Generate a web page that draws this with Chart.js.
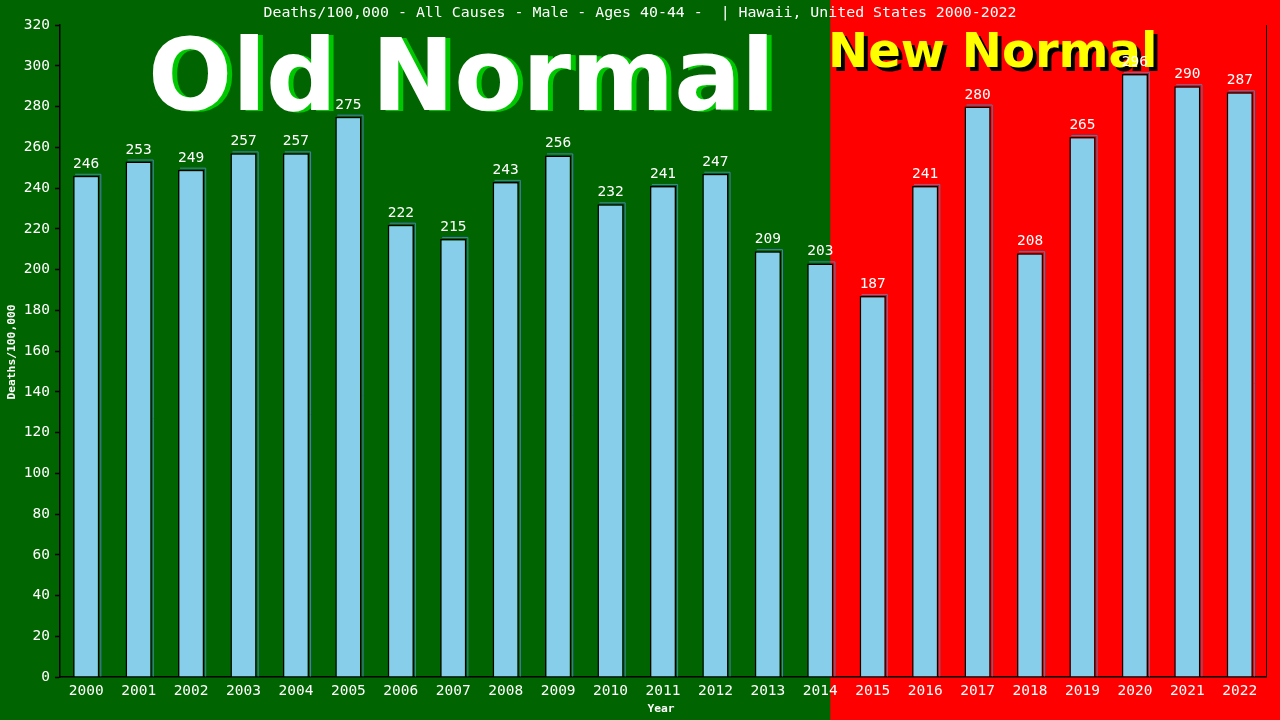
<!DOCTYPE html>
<html><head><meta charset="utf-8">
<script src="https://cdn.jsdelivr.net/npm/chart.js@4"></script>
<style>html,body{margin:0;padding:0;background:#006400;}#wrap{width:1280px;height:720px;}</style>
</head><body><div id="wrap"><canvas id="c" width="1280" height="720"></canvas></div>
<script>
const years = ["2000","2001","2002","2003","2004","2005","2006","2007","2008","2009","2010","2011","2012","2013","2014","2015","2016","2017","2018","2019","2020","2021","2022"];
const deaths = [246,253,249,257,257,275,222,215,243,256,232,241,247,209,203,187,241,280,208,265,296,290,287];
const chartTitle = "Deaths/100,000 - All Causes - Male - Ages 40-44 -  | Hawaii, United States 2000-2022";
const yTitle = "Deaths/100,000";
const xTitle = "Year";
const lastOldIndex = 14;

const MONO = '"DejaVu Sans Mono", "Liberation Mono", monospace';
const BIG = '"DejaVu Sans", "Noto Sans", sans-serif';

const bgPlugin = {
  id: 'bg',
  beforeDraw(chart) {
    const ctx = chart.ctx, xs = chart.scales.x;
    const split = xs.getPixelForValue(lastOldIndex) + 10;
    ctx.save();
    ctx.fillStyle = '#006400';
    ctx.fillRect(0, 0, chart.width, chart.height);
    ctx.fillStyle = '#ff0000';
    ctx.fillRect(split, 0, chart.width - split, chart.height);
    ctx.textBaseline = 'alphabetic';
    ctx.textAlign = 'left';
    ctx.font = 'bold 99px ' + BIG;
    ctx.fillStyle = '#00c800';
    ctx.fillText('Old Normal', 153, 111);
    ctx.fillStyle = '#ffffff';
    ctx.fillText('Old Normal', 148, 110);
    ctx.font = 'bold 48px ' + BIG;
    ctx.fillStyle = '#000000';
    ctx.fillText('New Normal', 832, 71);
    ctx.fillStyle = '#ffff00';
    ctx.fillText('New Normal', 828, 67);
    ctx.restore();
  },
  beforeDatasetsDraw(chart) {
    const ctx = chart.ctx;
    const meta = chart.getDatasetMeta(0);
    ctx.save();
    ctx.strokeStyle = '#4682b4';
    ctx.lineWidth = 1;
    meta.data.forEach((el) => {
      const w = el.width, l = el.x - w / 2;
      ctx.beginPath();
      ctx.moveTo(l + 2, el.y - 1.5);
      ctx.lineTo(l + w + 1.5, el.y - 1.5);
      ctx.lineTo(l + w + 1.5, el.base);
      ctx.stroke();
    });
    ctx.restore();
  },
  afterDraw(chart) {
    const ctx = chart.ctx, a = chart.chartArea;
    ctx.save();
    ctx.strokeStyle = '#000';
    ctx.lineWidth = 1;
    ctx.beginPath();
    ctx.moveTo(a.right + 0.5, a.top);
    ctx.lineTo(a.right + 0.5, a.bottom);
    ctx.stroke();
    ctx.fillStyle = '#fff';
    ctx.font = '14.9px ' + MONO;
    ctx.textAlign = 'center';
    ctx.textBaseline = 'middle';
    ctx.fillText(chartTitle, 640, 13);
    ctx.font = 'bold 11.3px ' + MONO;
    ctx.fillText(xTitle, 661, 709);
    ctx.translate(12, 352);
    ctx.rotate(-Math.PI / 2);
    ctx.fillText(yTitle, 0, 0);
    ctx.restore();
  },
  afterDatasetsDraw(chart) {
    const ctx = chart.ctx;
    const meta = chart.getDatasetMeta(0);
    ctx.save();
    ctx.fillStyle = '#fff';
    ctx.font = '14.5px ' + MONO;
    ctx.textAlign = 'center';
    ctx.textBaseline = 'alphabetic';
    meta.data.forEach((el, i) => {
      ctx.fillText(String(deaths[i]), el.x, el.y - 8);
    });
    ctx.restore();
  }
};

new Chart(document.getElementById('c'), {
  type: 'bar',
  data: {
    labels: years,
    datasets: [{
      data: deaths,
      backgroundColor: '#87ceeb',
      borderColor: '#000000',
      borderWidth: 1.5,
      borderSkipped: 'bottom',
      categoryPercentage: 1.0,
      barPercentage: 0.5
    }]
  },
  options: {
    responsive: false,
    devicePixelRatio: 1,
    animation: false,
    layout: { padding: { top: 25, right: 14, left: 0, bottom: 0 } },
    plugins: { legend: { display: false }, tooltip: { enabled: false }, title: { display: false } },
    scales: {
      x: {
        grid: { display: false, drawOnChartArea: false },
        border: { color: '#000', width: 1.5 },
        ticks: { color: '#fff', font: { family: MONO, size: 14.5 }, maxRotation: 0, autoSkip: false, padding: -2 },
        afterFit(s) { s.height = 43; }
      },
      y: {
        min: 0, max: 320,
        grid: { drawOnChartArea: false, color: '#000', tickLength: 5, tickWidth: 1.5 },
        border: { color: '#000', width: 1.5 },
        ticks: { stepSize: 20, color: '#fff', font: { family: MONO, size: 14.5 }, padding: 5 },
        afterFit(s) { s.width = 60; }
      }
    }
  },
  plugins: [bgPlugin]
});
</script></body></html>
